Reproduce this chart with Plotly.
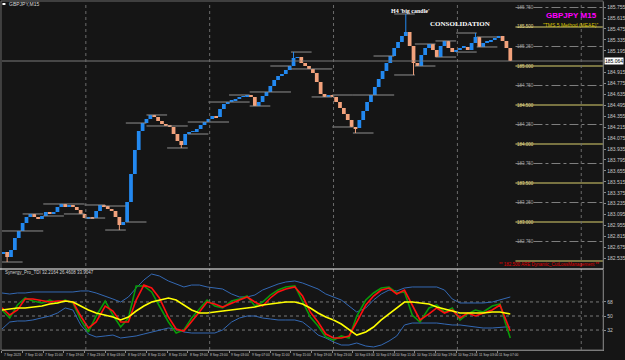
import plotly.graph_objects as go

# ---------------- DATA ----------------
# 45-minute candles, positioned in M15-bar units (bar 0 = first bar of the chart)
candle_bars = list(range(1, 396, 3))
first_open = 182.590
closes = [
    182.615, 182.551, 182.641, 182.795, 182.885, 182.987, 183.064, 183.103, 183.064, 183.038,
    183.077, 183.128, 183.103, 183.128, 183.192, 183.231, 183.192, 183.218, 183.192, 183.154,
    183.103, 183.051, 183.064, 183.051, 183.141, 183.218, 183.205, 183.167, 183.141, 183.064,
    182.962, 183.000, 183.256, 183.615, 183.923, 184.167, 184.269, 184.321, 184.372, 184.346,
    184.295, 184.256, 184.231, 184.218, 184.128, 184.038, 183.987, 184.128, 184.154, 184.154,
    184.192, 184.244, 184.282, 184.321, 184.359, 184.346, 184.449, 184.513, 184.538, 184.564,
    184.577, 184.603, 184.615, 184.628, 184.603, 184.487, 184.538, 184.615, 184.667, 184.744,
    184.821, 184.872, 184.897, 184.949, 185.000, 185.103, 185.115, 185.038, 185.000, 184.962,
    184.910, 184.795, 184.641, 184.603, 184.628, 184.603, 184.538, 184.462, 184.385, 184.308,
    184.218, 184.205, 184.308, 184.423, 184.538, 184.628, 184.731, 184.833, 184.936, 185.038,
    185.128, 185.231, 185.308, 185.385, 185.436, 185.256, 185.038, 185.000, 185.141, 185.231,
    185.282, 185.205, 185.115, 185.256, 185.321, 185.231, 185.179, 185.205, 185.231, 185.244,
    185.205, 185.295, 185.372, 185.244, 185.295, 185.308, 185.333, 185.359, 185.385, 185.321,
    185.231, 185.064]
wick_high_idx = [75, 104, 122]
wick_high_val = [185.179, 185.667, 185.423]
wick_low_idx = [1, 30, 46, 91, 106]
wick_low_val = [182.487, 182.897, 183.949, 184.141, 184.885]

# Synergy_Pro_TDI sub-window
tdi_bars = [0, 6, 12, 18, 24, 31, 37, 43, 49, 55, 61, 67, 73, 80, 86, 92, 98, 104, 110, 116,
            122, 129, 135, 141, 147, 153, 159, 165, 171, 178, 184, 190, 196, 202, 208, 214, 220,
            227, 233, 239, 245, 251, 257, 263, 269, 275, 282, 288, 294, 300, 306, 312, 318, 324,
            331, 337, 343, 349, 355, 361, 367, 373, 380, 386, 390, 394]
tdi_upper = [79.5, 78.2, 79.5, 79.5, 80.8, 80.8, 80.8, 80.8, 80.8, 80.8,
             82.1, 82.1, 79.5, 75.6, 71.8, 67.9, 74.4, 85.9, 96.2, 103.8,
             101.3, 94.9, 91.0, 87.2, 89.7, 89.7, 87.2, 85.9, 84.6, 78.2,
             74.4, 74.4, 76.9, 83.3, 87.2, 91.0, 93.6, 94.9, 92.3, 88.5,
             84.6, 78.2, 74.4, 70.5, 62.8, 55.1, 60.3, 70.5, 78.2, 83.3,
             82.1, 85.9, 87.2, 87.2, 87.2, 87.2, 83.3, 71.8, 66.7, 66.7,
             66.7, 66.7, 67.9, 70.5, 73.1, 74.4]
tdi_lower = [33.3, 42.3, 43.6, 43.6, 44.9, 47.4, 50.0, 53.8, 60.3, 57.7,
             38.5, 26.9, 23.1, 24.4, 25.6, 21.8, 23.1, 24.4, 26.9, 29.5,
             32.1, 34.6, 33.3, 29.5, 28.2, 28.2, 28.2, 28.2, 32.1, 42.3,
             47.4, 50.0, 50.0, 47.4, 46.2, 44.9, 44.9, 44.9, 42.3, 34.6,
             25.6, 21.8, 16.7, 12.8, 12.8, 15.4, 11.5, 10.3, 12.8, 17.9,
             24.4, 38.5, 41.0, 41.0, 41.0, 41.0, 39.7, 38.5, 38.5, 37.2,
             35.9, 34.6, 34.6, 35.9, 35.9, 35.9]
tdi_base = [57.7, 59.0, 60.3, 60.3, 61.5, 62.8, 65.4, 66.7, 69.2, 67.9,
            62.8, 57.7, 53.8, 51.3, 48.7, 44.9, 48.7, 56.4, 62.8, 67.9,
            70.5, 73.1, 70.5, 64.1, 57.7, 53.8, 53.8, 55.1, 56.4, 57.7,
            59.0, 60.3, 61.5, 64.1, 65.4, 66.7, 67.9, 67.9, 65.4, 60.3,
            53.8, 48.7, 44.9, 39.7, 32.1, 25.6, 29.5, 35.9, 44.9, 52.6,
            60.3, 67.9, 67.9, 66.7, 65.4, 61.5, 59.0, 56.4, 53.8, 53.8,
            53.8, 53.8, 55.1, 55.1, 53.8, 52.6]
tdi_signal = [60.3, 51.3, 57.7, 71.8, 71.8, 69.2, 67.9, 69.2, 69.2, 67.9,
              50.0, 34.6, 42.3, 62.8, 56.4, 42.3, 42.3, 70.5, 89.7, 85.9,
              73.1, 48.7, 33.3, 30.8, 42.3, 55.1, 67.9, 65.4, 61.5, 66.7,
              70.5, 74.4, 67.9, 62.8, 73.1, 80.8, 84.6, 87.2, 75.6, 55.1,
              42.3, 26.9, 21.8, 21.8, 24.4, 42.3, 64.1, 75.6, 83.3, 85.9,
              78.2, 83.3, 64.1, 44.9, 52.6, 60.3, 53.8, 57.7, 47.4, 53.8,
              50.0, 53.8, 57.7, 64.1, 47.4, 30.8]
tdi_price = [57.7, 47.4, 64.1, 73.1, 69.2, 66.7, 70.5, 66.7, 70.5, 66.7,
             44.9, 29.5, 50.0, 69.2, 51.3, 35.9, 47.4, 88.5, 88.5, 80.8,
             62.8, 42.3, 28.2, 32.1, 47.4, 59.0, 70.5, 62.8, 60.3, 69.2,
             71.8, 75.6, 62.8, 67.9, 76.9, 83.3, 87.2, 88.5, 69.2, 48.7,
             37.2, 23.1, 19.2, 24.4, 21.8, 50.0, 70.5, 79.5, 85.9, 87.2,
             79.5, 80.8, 51.3, 42.3, 60.3, 64.1, 55.1, 60.3, 44.9, 52.6,
             57.7, 55.1, 62.8, 65.4, 42.3, 21.8]
tdi_levels = [68, 50, 32]

time_label_bars = [0, 16, 32, 48, 64, 80, 96, 112, 128, 144, 160, 176, 192, 208, 224, 240,
                   256, 272, 288, 304, 320, 336, 352, 368, 384]
time_labels = ["7 Sep 2023", "7 Sep 11:00", "7 Sep 15:00", "7 Sep 19:00", "7 Sep 23:00",
               "8 Sep 03:00", "8 Sep 07:00", "8 Sep 11:00", "8 Sep 15:00", "8 Sep 19:00",
               "8 Sep 23:00", "9 Sep 03:00", "9 Sep 07:00", "9 Sep 11:00", "9 Sep 15:00",
               "9 Sep 19:00", "9 Sep 23:00", "10 Sep 03:00", "10 Sep 07:00", "10 Sep 11:00",
               "10 Sep 15:00", "10 Sep 19:00", "10 Sep 23:00", "11 Sep 03:00", "11 Sep 07:00"]
day_sep_bars = [65, 161, 257, 353, 449]

price_ticks = [185.755, 185.615, 185.475, 185.335, 185.195, 184.915, 184.775,
               184.635, 184.495, 184.355, 184.215, 184.075, 183.935, 183.795, 183.655,
               183.515, 183.375, 183.235, 183.095, 182.955, 182.815, 182.675, 182.535]
level_solid = [185.5, 185.0, 184.5, 184.0, 183.5, 183.0, 182.5]
level_dashdot = [185.75, 185.25, 184.75, 184.25, 183.75, 183.25, 182.75]
alarm_level = 182.5
level_start_bar = 398

# ---------------- GEOMETRY ----------------
W, H = 625, 360
X_MAX = 466
def px(v):
    return v / W
def py(v):
    return 1 - v / H

BG = "#151515"
UP = "#2389f0"
DOWN = "#f2a27c"
GRID = "#6c6c6c"
TXT = "#c8c8c8"

opens = [first_open] + closes[:-1]
highs = [max(o, c) for o, c in zip(opens, closes)]
lows = [min(o, c) for o, c in zip(opens, closes)]
for i, v in zip(wick_high_idx, wick_high_val):
    highs[i] = max(highs[i], v)
for i, v in zip(wick_low_idx, wick_low_val):
    lows[i] = min(lows[i], v)

fig = go.Figure()

# H4 high/low markers (per 16 M15 bars)
last_bar = candle_bars[-1]
h4x, h4y = [], []
for g in range(0, last_bar // 16 + 1):
    s, e = g * 16, g * 16 + 16
    if e > last_bar + 1:
        continue
    idx = [i for i, b in enumerate(candle_bars) if s <= b < e]
    if not idx:
        continue
    hi = max(highs[i] for i in idx)
    lo = min(lows[i] for i in idx)
    h4x += [s, e, None, s, e, None]
    h4y += [hi, hi, None, lo, lo, None]
fig.add_trace(go.Scatter(x=h4x, y=h4y, mode="lines", line=dict(color="#8f8f8f", width=1),
                         xaxis="x", yaxis="y"))

# level lines
for lv in level_dashdot:
    fig.add_trace(go.Scatter(x=[level_start_bar, X_MAX], y=[lv, lv], mode="lines",
                             line=dict(color="#7e7e7e", width=1, dash="dashdot"),
                             xaxis="x", yaxis="y"))
for lv in level_solid:
    fig.add_trace(go.Scatter(x=[level_start_bar, X_MAX], y=[lv, lv], mode="lines",
                             line=dict(color="#9a9350", width=1.6), xaxis="x", yaxis="y"))

# bid line
fig.add_trace(go.Scatter(x=[0, X_MAX], y=[closes[-1], closes[-1]], mode="lines",
                         line=dict(color="#7a7a7a", width=1), xaxis="x", yaxis="y"))

# candles
for up in (True, False):
    xs, base, hgt, wx, wy = [], [], [], [], []
    for b, o, c, h, l in zip(candle_bars, opens, closes, highs, lows):
        if (c >= o) != up:
            continue
        xs.append(b)
        base.append(min(o, c))
        hgt.append(max(abs(c - o), 0.01))
        wx += [b, b, None]
        wy += [l, h, None]
    col = UP if up else DOWN
    fig.add_trace(go.Scatter(x=wx, y=wy, mode="lines", line=dict(color=col, width=1),
                             xaxis="x", yaxis="y"))
    fig.add_trace(go.Bar(x=xs, y=hgt, base=base, width=2.9,
                         marker=dict(color=col, line=dict(width=0)), xaxis="x", yaxis="y"))

# TDI level lines
for lv in tdi_levels:
    fig.add_trace(go.Scatter(x=[0, X_MAX], y=[lv, lv], mode="lines",
                             line=dict(color="#7a7a7a", width=1, dash="dot"),
                             xaxis="x2", yaxis="y2"))
# TDI lines
fig.add_trace(go.Scatter(x=tdi_bars, y=tdi_upper, mode="lines", line=dict(color="#3469b4", width=1),
                         xaxis="x2", yaxis="y2"))
fig.add_trace(go.Scatter(x=tdi_bars, y=tdi_lower, mode="lines", line=dict(color="#3469b4", width=1),
                         xaxis="x2", yaxis="y2"))
fig.add_trace(go.Scatter(x=tdi_bars, y=tdi_price, mode="lines", line=dict(color="#0a9a0a", width=1.6),
                         xaxis="x2", yaxis="y2"))
fig.add_trace(go.Scatter(x=tdi_bars, y=tdi_signal, mode="lines", line=dict(color="#ff1010", width=1.6),
                         xaxis="x2", yaxis="y2"))
fig.add_trace(go.Scatter(x=tdi_bars, y=tdi_base, mode="lines", line=dict(color="#ffff00", width=1.6),
                         xaxis="x2", yaxis="y2"))

# ---------------- LAYOUT ----------------
main_lo, main_hi = 182.3974, 185.8205
sub_lo, sub_hi = 6.41, 108.97
xdom = [px(2), px(611)]
axis_common = dict(showgrid=False, zeroline=False)
fig.update_layout(
    width=W, height=H, margin=dict(l=0, r=0, t=0, b=0),
    paper_bgcolor=BG, plot_bgcolor=BG, showlegend=False, hovermode=False,
    barmode="overlay",
    font=dict(family="Liberation Sans", color=TXT, size=5),
    xaxis=dict(domain=xdom, range=[0, X_MAX], anchor="y", showticklabels=False,
               ticks="", showline=False, **axis_common),
    xaxis2=dict(domain=xdom, range=[0, X_MAX], anchor="y2", showticklabels=False,
                tickvals=time_label_bars, ticks="outside", ticklen=2, tickcolor="#8a8a8a",
                showline=True, linecolor="#8a8a8a", linewidth=1, **axis_common),
    yaxis=dict(domain=[py(269), py(2)], range=[main_lo, main_hi], anchor="x", side="right",
               tickvals=price_ticks, ticktext=[f"{v:.3f}" for v in price_ticks],
               tickfont=dict(size=5, color=TXT), ticks="outside", ticklen=2,
               tickcolor="#8a8a8a", showline=True, linecolor="#8a8a8a", linewidth=1,
               **axis_common),
    yaxis2=dict(domain=[py(350), py(270)], range=[sub_lo, sub_hi], anchor="x2", side="right",
                tickvals=tdi_levels, ticktext=[str(v) for v in tdi_levels],
                tickfont=dict(size=5, color=TXT), ticks="outside", ticklen=2,
                tickcolor="#8a8a8a", showline=True, linecolor="#8a8a8a", linewidth=1,
                **axis_common),
)

shapes = []
for b in day_sep_bars:
    shapes.append(dict(type="line", xref="x", yref="paper", x0=b, x1=b, y0=py(350), y1=py(2),
                       line=dict(color=GRID, width=1, dash="dot")))
shapes.append(dict(type="rect", xref="paper", yref="paper", x0=px(1), x1=px(611),
                   y0=py(350), y1=py(1), line=dict(color="#6a6a6a", width=1)))
shapes.append(dict(type="line", xref="paper", yref="paper", x0=0, x1=px(611),
                   y0=py(269), y1=py(269), line=dict(color="#ffffff", width=1.2)))
shapes.append(dict(type="rect", xref="paper", yref="paper", x0=px(2.5), x1=px(5.5),
                   y0=py(5), y1=py(3), fillcolor="#ffffff", line=dict(width=0)))
fig.update_layout(shapes=shapes)

ann = []
ann.append(dict(text="GBPJPY,M15", xref="paper", yref="paper", x=px(7), y=py(4),
                xanchor="left", yanchor="middle", showarrow=False,
                font=dict(size=5, color="#d8d8d8")))
ann.append(dict(text="Synergy_Pro_TDI 32.2164 26.4608 33.9047", xref="paper", yref="paper",
                x=px(3), y=py(272.5), xanchor="left", yanchor="middle", showarrow=False,
                font=dict(size=4.5, color="#d0d0d0")))
ann.append(dict(text="<b>H4 'big candle'</b>", xref="paper", yref="paper", x=px(416), y=py(11),
                xanchor="center", yanchor="middle", showarrow=False,
                font=dict(family="Liberation Serif", size=6, color="#ffffff")))
ann.append(dict(text="<b>CONSOLIDATION</b>", xref="paper", yref="paper", x=px(466), y=py(24.5),
                xanchor="center", yanchor="middle", showarrow=False,
                font=dict(family="Liberation Serif", size=7, color="#ffffff")))
ann.append(dict(text="<b>GBPJPY M15</b>", xref="paper", yref="paper", x=px(607), y=py(16),
                xanchor="right", yanchor="middle", showarrow=False,
                font=dict(family="Liberation Sans", size=8, color="#ff00ff")))
ann.append(dict(text="\"TMS 5 Method (MEAE)\"", xref="paper", yref="paper", x=px(608), y=py(25.5),
                xanchor="right", yanchor="middle", showarrow=False,
                font=dict(size=5, color="#d8c400")))
ann.append(dict(text=f"** {alarm_level:.3f} ARE Dynamic_CutLossManagement **", xref="paper",
                yref="paper", x=px(609), y=py(264.5), xanchor="right", yanchor="middle",
                showarrow=False, font=dict(size=4.5, color="#e00000")))
for lv in level_solid:
    if lv == alarm_level:
        continue
    ann.append(dict(text=f"{lv:.3f}", xref="x", yref="y", x=level_start_bar, y=lv,
                    xanchor="left", yanchor="middle", showarrow=False,
                    font=dict(size=4.5, color="#e0d890")))
for lv in level_dashdot:
    ann.append(dict(text=f"{lv:.3f}", xref="x", yref="y", x=level_start_bar, y=lv,
                    xanchor="left", yanchor="middle", showarrow=False,
                    font=dict(size=4.5, color="#9a9a9a")))
for b, t in zip(time_label_bars, time_labels):
    ann.append(dict(text=t, xref="x2", yref="paper", x=b, y=py(355), xanchor="left",
                    yanchor="middle", showarrow=False, font=dict(size=3.3, color=TXT)))
ann.append(dict(text=f"{closes[-1]:.3f}", xref="paper", yref="y", x=px(612), y=closes[-1],
                xanchor="left", yanchor="middle", showarrow=False, bgcolor="#ffffff",
                borderpad=0, font=dict(size=5, color="#000000")))
fig.update_layout(annotations=ann)

fig.write_html("out.html")
